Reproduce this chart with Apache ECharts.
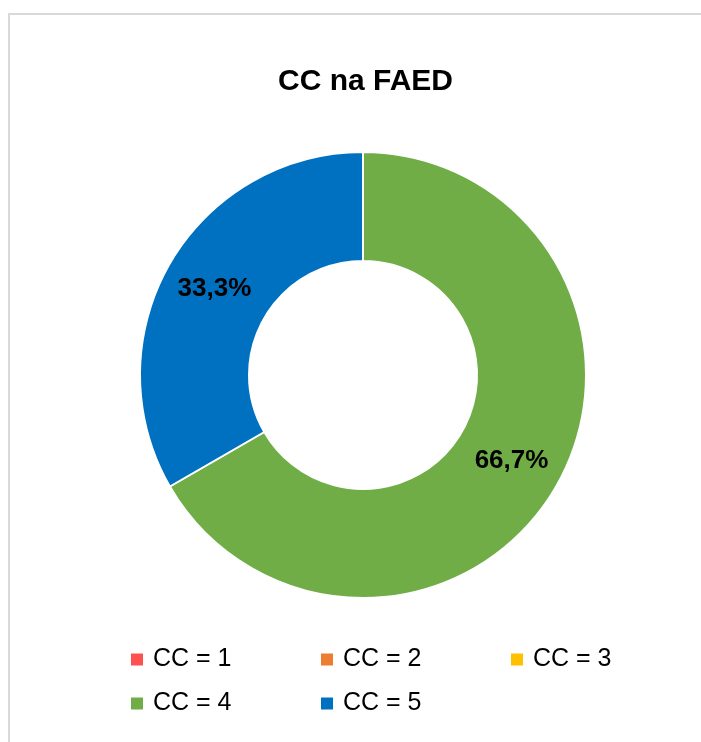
<!DOCTYPE html>
<html>
<head>
<meta charset="utf-8">
<script src="https://cdn.jsdelivr.net/npm/echarts@6/dist/echarts.min.js"></script>
<style>
html,body{margin:0;padding:0;background:#fff;}
#chart{width:701px;height:742px;}
</style>
</head>
<body>
<div id="chart"></div>
<script>
const titleText = 'CC na FAED';
const categories = ['CC = 1', 'CC = 2', 'CC = 3', 'CC = 4', 'CC = 5'];
const values = [0, 0, 0, 2, 1];
const colors = ['#FF5050', '#ED7D31', '#FFC000', '#70AD47', '#0070C0'];

const total = values.reduce((a, b) => a + b, 0);
const FONT = '"Liberation Sans", Arial, sans-serif';

const chart = echarts.init(document.getElementById('chart'), null, {renderer: 'canvas'});

const legendCommon = {
  orient: 'horizontal',
  left: 129,
  itemWidth: 14,
  itemHeight: 14,
  itemGap: 10,
  icon: 'rect',
  padding: 0,
  textStyle: {
    fontFamily: FONT,
    fontSize: 25,
    color: '#000',
    width: 156,
    lineHeight: 26,
    padding: [0, 0, 0, 4]
  }
};

chart.setOption({
  animation: false,
  backgroundColor: '#fff',
  color: colors,
  title: {
    text: titleText,
    left: 360.5,
    top: 62,
    textAlign: 'center',
    textStyle: {fontFamily: FONT, fontSize: 30, fontWeight: 'bold', color: '#000'}
  },
  graphic: [{
    type: 'rect',
    shape: {x: 9, y: 14, width: 760, height: 800},
    style: {fill: 'none', stroke: '#d9d9d9', lineWidth: 2},
    silent: true
  }],
  legend: [
    Object.assign({}, legendCommon, {top: 646.5, data: categories.slice(0, 3)}),
    Object.assign({}, legendCommon, {top: 690.5, data: categories.slice(3)})
  ],
  series: [{
    type: 'pie',
    center: [363, 375],
    radius: [114, 223],
    startAngle: 90,
    clockwise: true,
    avoidLabelOverlap: false,
    itemStyle: {borderColor: '#fff', borderWidth: 2},
    label: {
      show: true,
      position: 'inside',
      fontFamily: FONT,
      fontSize: 26,
      fontWeight: 'bold',
      color: '#000',
      formatter: function (p) {
        if (!p.value) return '';
        return (p.value / total * 100).toFixed(1).replace('.', ',') + '%';
      }
    },
    labelLine: {show: false},
    emphasis: {disabled: true},
    data: categories.map((c, i) => ({name: c, value: values[i]}))
  }]
});
</script>
</body>
</html>
